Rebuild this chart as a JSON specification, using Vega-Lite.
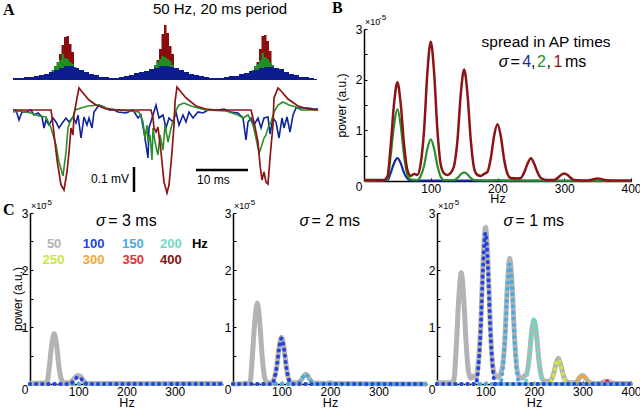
{
"$schema": "https://vega.github.io/schema/vega-lite/v6.json",
"background": "white",
"padding": {"left": 2, "top": 0, "right": 0, "bottom": 0},
"spacing": -7,
"config": {
  "view": {"stroke": null},
  "font": "Liberation Sans",
  "text": {"font": "Liberation Sans", "color": "#000"},
  "axis": {"domainColor": "#000", "domainWidth": 1.5, "tickColor": "#000", "tickSize": -3, "tickWidth": 1, "labelPadding": 5, "labelFontSize": 12, "labelColor": "#000", "labelFont": "Liberation Sans", "titleFont": "Liberation Sans", "titleFontSize": 13, "titleFontWeight": "normal", "titleColor": "#000", "grid": false, "labelFlush": false, "labelOverlap": false, "labelBound": false},
  "axisX": {"labelPadding": 5.5}
},
"datasets": {
  "hist": [
    {"t":6,"n":0,"s":1},{"t":7.5,"n":2,"s":1},{"t":8,"n":5,"s":1},{"t":8.5,"n":12,"s":1},{"t":9,"n":26,"s":1},{"t":9.5,"n":35,"s":1},{"t":10,"n":43,"s":1},{"t":10.5,"n":44,"s":1},{"t":11,"n":36,"s":1},{"t":11.5,"n":28,"s":1},{"t":12,"n":12,"s":1},{"t":12.5,"n":5,"s":1},{"t":13,"n":1,"s":1},{"t":13.5,"n":0,"s":1},
    {"t":27.5,"n":3,"s":1},{"t":28,"n":8,"s":1},{"t":28.5,"n":20,"s":1},{"t":29,"n":31,"s":1},{"t":29.5,"n":46,"s":1},{"t":30,"n":55,"s":1},{"t":30.5,"n":47,"s":1},{"t":31,"n":34,"s":1},{"t":31.5,"n":26,"s":1},{"t":32,"n":12,"s":1},{"t":32.5,"n":5,"s":1},{"t":33,"n":0,"s":1},
    {"t":47.5,"n":3,"s":1},{"t":48,"n":8,"s":1},{"t":48.5,"n":18,"s":1},{"t":49,"n":31,"s":1},{"t":49.5,"n":44,"s":1},{"t":50,"n":45,"s":1},{"t":50.5,"n":39,"s":1},{"t":51,"n":29,"s":1},{"t":51.5,"n":15,"s":1},{"t":52,"n":6,"s":1},{"t":52.5,"n":2,"s":1},{"t":53,"n":0,"s":1},
    {"t":4,"n":0,"s":2},{"t":6,"n":3,"s":2},{"t":6.5,"n":5,"s":2},{"t":7,"n":8,"s":2},{"t":7.5,"n":10,"s":2},{"t":8,"n":14,"s":2},{"t":8.5,"n":18,"s":2},{"t":9,"n":20,"s":2},{"t":9.5,"n":26,"s":2},{"t":10,"n":22,"s":2},{"t":10.5,"n":21,"s":2},{"t":11,"n":18,"s":2},{"t":11.5,"n":16,"s":2},{"t":12,"n":13,"s":2},{"t":12.5,"n":10,"s":2},{"t":13,"n":7,"s":2},{"t":13.5,"n":5,"s":2},{"t":14,"n":3,"s":2},{"t":14.5,"n":0,"s":2},
    {"t":26.5,"n":3,"s":2},{"t":27,"n":6,"s":2},{"t":27.5,"n":10,"s":2},{"t":28,"n":15,"s":2},{"t":28.5,"n":18,"s":2},{"t":29,"n":21,"s":2},{"t":29.5,"n":24,"s":2},{"t":30,"n":23,"s":2},{"t":30.5,"n":21,"s":2},{"t":31,"n":19,"s":2},{"t":31.5,"n":15,"s":2},{"t":32,"n":12,"s":2},{"t":32.5,"n":10,"s":2},{"t":33,"n":7,"s":2},{"t":33.5,"n":4,"s":2},{"t":34,"n":2,"s":2},{"t":34.5,"n":0,"s":2},
    {"t":46.5,"n":3,"s":2},{"t":47,"n":6,"s":2},{"t":47.5,"n":10,"s":2},{"t":48,"n":14,"s":2},{"t":48.5,"n":16,"s":2},{"t":49,"n":20,"s":2},{"t":49.5,"n":27,"s":2},{"t":50,"n":23,"s":2},{"t":50.5,"n":21,"s":2},{"t":51,"n":18,"s":2},{"t":51.5,"n":15,"s":2},{"t":52,"n":12,"s":2},{"t":52.5,"n":9,"s":2},{"t":53,"n":6,"s":2},{"t":53.5,"n":3,"s":2},{"t":54,"n":0,"s":2},
    {"t":-0.2,"n":2,"s":4},{"t":1,"n":2,"s":4},{"t":2,"n":3,"s":4},{"t":3,"n":3,"s":4},{"t":4,"n":4,"s":4},{"t":5,"n":5,"s":4},{"t":6,"n":6,"s":4},{"t":7,"n":8,"s":4},{"t":8,"n":10,"s":4},{"t":9,"n":12,"s":4},{"t":10,"n":14,"s":4},{"t":11,"n":14,"s":4},{"t":12,"n":12,"s":4},{"t":13,"n":10,"s":4},{"t":14,"n":8,"s":4},{"t":15,"n":6,"s":4},{"t":16,"n":5,"s":4},{"t":17,"n":3,"s":4},{"t":18,"n":3,"s":4},{"t":19,"n":2,"s":4},{"t":20,"n":2,"s":4},
    {"t":21,"n":3,"s":4},{"t":22,"n":4,"s":4},{"t":23,"n":5,"s":4},{"t":24,"n":7,"s":4},{"t":25,"n":8,"s":4},{"t":26,"n":9,"s":4},{"t":27,"n":11,"s":4},{"t":28,"n":12,"s":4},{"t":29,"n":14,"s":4},{"t":30,"n":14,"s":4},{"t":31,"n":13,"s":4},{"t":32,"n":12,"s":4},{"t":33,"n":10,"s":4},{"t":34,"n":8,"s":4},{"t":35,"n":6,"s":4},{"t":36,"n":5,"s":4},{"t":37,"n":4,"s":4},{"t":38,"n":3,"s":4},{"t":39,"n":2,"s":4},{"t":40,"n":2,"s":4},
    {"t":41,"n":2,"s":4},{"t":42,"n":3,"s":4},{"t":43,"n":4,"s":4},{"t":44,"n":4,"s":4},{"t":45,"n":6,"s":4},{"t":46,"n":7,"s":4},{"t":47,"n":9,"s":4},{"t":48,"n":10,"s":4},{"t":49,"n":12,"s":4},{"t":50,"n":13,"s":4},{"t":51,"n":13,"s":4},{"t":52,"n":12,"s":4},{"t":53,"n":11,"s":4},{"t":54,"n":8,"s":4},{"t":55,"n":6,"s":4},{"t":56,"n":5,"s":4},{"t":57,"n":3,"s":4},{"t":58,"n":3,"s":4},{"t":59,"n":2,"s":4},{"t":60,"n":1,"s":4},{"t":60.6,"n":1,"s":4}
  ],
  "trace": [
    {"t":-0.2,"v":0,"s":1},{"t":7.4,"v":0,"s":1},{"t":7.8,"v":-0.06,"s":1},{"t":8.6,"v":-0.2,"s":1},{"t":9.4,"v":-0.3,"s":1},{"t":10,"v":-0.32,"s":1},{"t":10.6,"v":-0.248,"s":1},{"t":11,"v":-0.168,"s":1},{"t":11.4,"v":-0.072,"s":1},{"t":11.8,"v":-0.1,"s":1},{"t":12,"v":-0.02,"s":1},{"t":12.6,"v":0.048,"s":1},{"t":13,"v":0.088,"s":1},{"t":13.8,"v":0.068,"s":1},{"t":15,"v":0.04,"s":1},{"t":16.4,"v":0.02,"s":1},{"t":18.4,"v":0.004,"s":1},{"t":21.4,"v":0,"s":1},
    {"t":27.4,"v":0,"s":1},{"t":27.8,"v":-0.032,"s":1},{"t":28,"v":-0.072,"s":1},{"t":28.4,"v":-0.088,"s":1},{"t":28.8,"v":-0.068,"s":1},{"t":29.4,"v":-0.168,"s":1},{"t":30,"v":-0.288,"s":1},{"t":30.6,"v":-0.332,"s":1},{"t":31,"v":-0.3,"s":1},{"t":31.6,"v":-0.168,"s":1},{"t":32,"v":-0.06,"s":1},{"t":32.2,"v":0.032,"s":1},{"t":32.6,"v":0.092,"s":1},{"t":33.4,"v":0.072,"s":1},{"t":34.4,"v":0.048,"s":1},{"t":36.4,"v":0.016,"s":1},{"t":38.4,"v":0.004,"s":1},{"t":40.4,"v":0,"s":1},
    {"t":47.4,"v":0,"s":1},{"t":48,"v":-0.048,"s":1},{"t":48.8,"v":-0.128,"s":1},{"t":49.2,"v":-0.22,"s":1},{"t":49.6,"v":-0.28,"s":1},{"t":50,"v":-0.248,"s":1},{"t":50.4,"v":-0.288,"s":1},{"t":50.8,"v":-0.296,"s":1},{"t":51.2,"v":-0.192,"s":1},{"t":51.8,"v":-0.06,"s":1},{"t":52,"v":0.048,"s":1},{"t":52.8,"v":0.088,"s":1},{"t":53.6,"v":0.072,"s":1},{"t":54.8,"v":0.044,"s":1},{"t":56.8,"v":0.016,"s":1},{"t":58.8,"v":0.004,"s":1},{"t":60.8,"v":0,"s":1},
    {"t":-0.2,"v":-0.008,"s":2},{"t":1.4,"v":-0.004,"s":2},{"t":3.4,"v":-0.012,"s":2},{"t":5,"v":-0.024,"s":2},{"t":6.4,"v":-0.028,"s":2},{"t":7.4,"v":-0.072,"s":2},{"t":8.4,"v":-0.14,"s":2},{"t":9,"v":-0.208,"s":2},{"t":9.8,"v":-0.264,"s":2},{"t":10.4,"v":-0.168,"s":2},{"t":10.8,"v":-0.072,"s":2},{"t":11.2,"v":-0.048,"s":2},{"t":11.8,"v":-0.028,"s":2},{"t":12.2,"v":0,"s":2},{"t":13.4,"v":0.008,"s":2},{"t":14.8,"v":0.016,"s":2},{"t":16.8,"v":0.02,"s":2},{"t":18.4,"v":0.008,"s":2},{"t":20.4,"v":0,"s":2},
    {"t":23.4,"v":-0.004,"s":2},{"t":25,"v":-0.008,"s":2},{"t":25.8,"v":-0.048,"s":2},{"t":26.2,"v":-0.112,"s":2},{"t":26.6,"v":-0.06,"s":2},{"t":26.8,"v":-0.128,"s":2},{"t":27.2,"v":-0.1,"s":2},{"t":27.6,"v":-0.2,"s":2},{"t":27.8,"v":-0.072,"s":2},{"t":28.2,"v":-0.128,"s":2},{"t":28.8,"v":-0.18,"s":2},{"t":29.2,"v":-0.1,"s":2},{"t":29.8,"v":-0.16,"s":2},{"t":30.2,"v":-0.06,"s":2},{"t":30.8,"v":-0.128,"s":2},{"t":31.4,"v":-0.072,"s":2},{"t":32,"v":-0.032,"s":2},{"t":32.4,"v":0,"s":2},{"t":33,"v":0.02,"s":2},{"t":34,"v":0.028,"s":2},{"t":35.4,"v":0.016,"s":2},{"t":36.8,"v":0.008,"s":2},{"t":38.4,"v":0,"s":2},
    {"t":42.4,"v":-0.004,"s":2},{"t":44.8,"v":-0.02,"s":2},{"t":45.8,"v":-0.032,"s":2},{"t":46.8,"v":-0.02,"s":2},{"t":47.8,"v":-0.06,"s":2},{"t":48.4,"v":-0.112,"s":2},{"t":49,"v":-0.172,"s":2},{"t":49.4,"v":-0.152,"s":2},{"t":50,"v":-0.112,"s":2},{"t":50.4,"v":-0.1,"s":2},{"t":50.8,"v":-0.072,"s":2},{"t":51.4,"v":-0.048,"s":2},{"t":52,"v":-0.008,"s":2},{"t":52.8,"v":0.02,"s":2},{"t":53.8,"v":0.032,"s":2},{"t":55,"v":0.02,"s":2},{"t":56.4,"v":0.012,"s":2},{"t":57.4,"v":0,"s":2},{"t":60.8,"v":0,"s":2},
    {"t":-0.2,"v":0,"s":4},{"t":0.4,"v":0,"s":4},{"t":1,"v":-0.04,"s":4},{"t":1.6,"v":-0.008,"s":4},{"t":2.4,"v":-0.008,"s":4},{"t":3.4,"v":0,"s":4},{"t":4,"v":-0.02,"s":4},{"t":4.8,"v":-0.012,"s":4},{"t":5.6,"v":-0.028,"s":4},{"t":6,"v":-0.072,"s":4},{"t":6.4,"v":-0.04,"s":4},{"t":7,"v":-0.06,"s":4},{"t":7.8,"v":-0.032,"s":4},{"t":8.4,"v":-0.048,"s":4},{"t":9,"v":-0.072,"s":4},{"t":9.8,"v":-0.048,"s":4},{"t":10.4,"v":-0.032,"s":4},{"t":11,"v":-0.048,"s":4},{"t":11.8,"v":-0.028,"s":4},{"t":12.4,"v":-0.052,"s":4},{"t":12.8,"v":-0.02,"s":4},{"t":13.4,"v":-0.112,"s":4},{"t":14,"v":-0.028,"s":4},{"t":14.6,"v":-0.06,"s":4},{"t":15,"v":-0.032,"s":4},{"t":15.6,"v":-0.072,"s":4},{"t":16,"v":-0.008,"s":4},{"t":17,"v":0.02,"s":4},{"t":18,"v":0.012,"s":4},{"t":19,"v":0,"s":4},{"t":20,"v":0,"s":4},
    {"t":20.8,"v":-0.008,"s":4},{"t":22.4,"v":-0.012,"s":4},{"t":23.8,"v":0,"s":4},{"t":24.8,"v":-0.032,"s":4},{"t":25.4,"v":-0.02,"s":4},{"t":26,"v":-0.088,"s":4},{"t":26.4,"v":-0.14,"s":4},{"t":26.8,"v":-0.192,"s":4},{"t":27,"v":-0.072,"s":4},{"t":27.8,"v":-0.02,"s":4},{"t":28.4,"v":0.02,"s":4},{"t":29,"v":-0.032,"s":4},{"t":29.8,"v":-0.02,"s":4},{"t":30.4,"v":-0.072,"s":4},{"t":31,"v":-0.032,"s":4},{"t":31.8,"v":-0.048,"s":4},{"t":32.4,"v":-0.008,"s":4},{"t":33,"v":-0.06,"s":4},{"t":33.8,"v":-0.02,"s":4},{"t":34.4,"v":-0.048,"s":4},{"t":35,"v":-0.008,"s":4},{"t":35.8,"v":-0.032,"s":4},{"t":36.8,"v":-0.008,"s":4},{"t":37.8,"v":-0.012,"s":4},{"t":38.8,"v":0,"s":4},{"t":39.8,"v":0,"s":4},{"t":40.8,"v":0,"s":4},
    {"t":42,"v":0.004,"s":4},{"t":43.4,"v":-0.008,"s":4},{"t":44.8,"v":-0.012,"s":4},{"t":45.8,"v":-0.032,"s":4},{"t":46.4,"v":-0.12,"s":4},{"t":46.8,"v":-0.048,"s":4},{"t":47.4,"v":-0.032,"s":4},{"t":48,"v":-0.06,"s":4},{"t":48.8,"v":-0.032,"s":4},{"t":49.4,"v":-0.072,"s":4},{"t":50,"v":-0.032,"s":4},{"t":50.8,"v":-0.028,"s":4},{"t":51.2,"v":-0.096,"s":4},{"t":51.8,"v":-0.032,"s":4},{"t":52.4,"v":-0.048,"s":4},{"t":53,"v":-0.112,"s":4},{"t":53.6,"v":-0.032,"s":4},{"t":54,"v":-0.072,"s":4},{"t":54.6,"v":-0.028,"s":4},{"t":55.2,"v":-0.088,"s":4},{"t":55.8,"v":-0.02,"s":4},{"t":56.4,"v":0.008,"s":4},{"t":57.4,"v":0.008,"s":4},{"t":58.8,"v":0.008,"s":4},{"t":60,"v":0.004,"s":4},{"t":60.8,"v":0.004,"s":4}
  ],
  "bars": [
    {"t":24,"t2":24,"v":-0.228,"v2":-0.328},
    {"t":36.4,"t2":46.8,"v":-0.24,"v2":-0.24}
  ],
  "notesA": [
    {"id":"title","t":41.2,"v":0.404,"label":"50 Hz, 20 ms period"},
    {"id":"A","t":-2.2,"v":0.432,"label":"A"},
    {"id":"mv","t":23,"v":-0.276,"label":"0.1 mV"},
    {"id":"ms","t":36.6,"v":-0.28,"label":"10 ms"}
  ],
  "notes": [
    {"id":"B","s":0,"hz":-48,"p":3.572,"label":"B"},
    {"id":"x10","s":0,"hz":1.5,"p":3.14,"label":"×10"},
    {"id":"exp","s":0,"hz":22.5,"p":3.21,"label":"-5"},
    {"id":"spread","s":0,"hz":272.7,"p":2.74,"label":"spread in AP times"},
    {"id":"sig","s":0,"hz":202,"p":2.35,"label":"σ"},
    {"id":"plain","s":0,"hz":219.5,"p":2.35,"label":"="},
    {"id":"plain","s":0,"hz":250,"p":2.35,"label":","},
    {"id":"plain","s":0,"hz":273.5,"p":2.35,"label":","},
    {"id":"plain","s":0,"hz":301,"p":2.35,"label":"ms"},
    {"id":"n4","s":0,"hz":237,"p":2.35,"label":"4"},
    {"id":"n2","s":0,"hz":259,"p":2.35,"label":"2"},
    {"id":"n1","s":0,"hz":284,"p":2.35,"label":"1"},
    {"id":"C","s":3,"hz":-56,"p":3.193,"label":"C"},
    {"id":"Hz","s":3,"hz":352,"p":2.46,"label":"Hz"},
    {"id":"sig","s":3,"hz":137,"p":2.86,"label":"σ"},
    {"id":"plain","s":3,"hz":162,"p":2.86,"label":"= 3 ms"},
    {"id":"x10","s":3,"hz":2,"p":3.12,"label":"×10"},
    {"id":"exp","s":3,"hz":31,"p":3.18,"label":"-5"},
    {"id":"sig","s":2,"hz":137,"p":2.86,"label":"σ"},
    {"id":"plain","s":2,"hz":162,"p":2.86,"label":"= 2 ms"},
    {"id":"x10","s":2,"hz":2,"p":3.12,"label":"×10"},
    {"id":"exp","s":2,"hz":31,"p":3.18,"label":"-5"},
    {"id":"sig","s":1,"hz":137,"p":2.86,"label":"σ"},
    {"id":"plain","s":1,"hz":162,"p":2.86,"label":"= 1 ms"},
    {"id":"x10","s":1,"hz":2,"p":3.12,"label":"×10"},
    {"id":"exp","s":1,"hz":31,"p":3.18,"label":"-5"}
  ],
  "spec": [
    {"s":1,"hz":0,"p":0.02},{"s":1,"hz":30,"p":0.02},{"s":1,"hz":35,"p":0.08},{"s":1,"hz":40,"p":0.7},{"s":1,"hz":45,"p":1.52},{"s":1,"hz":50,"p":1.95},{"s":1,"hz":55,"p":1.52},{"s":1,"hz":60,"p":0.72},{"s":1,"hz":65,"p":0.22},{"s":1,"hz":70,"p":0.1},{"s":1,"hz":75,"p":0.14},{"s":1,"hz":80,"p":0.12},{"s":1,"hz":85,"p":0.35},{"s":1,"hz":90,"p":1.0},{"s":1,"hz":95,"p":2.15},{"s":1,"hz":100,"p":2.75},{"s":1,"hz":105,"p":2.15},{"s":1,"hz":110,"p":1.0},{"s":1,"hz":115,"p":0.32},{"s":1,"hz":120,"p":0.15},{"s":1,"hz":125,"p":0.12},{"s":1,"hz":130,"p":0.16},{"s":1,"hz":135,"p":0.3},{"s":1,"hz":140,"p":0.8},{"s":1,"hz":145,"p":1.72},{"s":1,"hz":150,"p":2.2},{"s":1,"hz":155,"p":1.72},{"s":1,"hz":160,"p":0.8},{"s":1,"hz":165,"p":0.25},{"s":1,"hz":170,"p":0.12},{"s":1,"hz":175,"p":0.1},{"s":1,"hz":180,"p":0.14},{"s":1,"hz":185,"p":0.18},{"s":1,"hz":190,"p":0.45},{"s":1,"hz":195,"p":0.9},{"s":1,"hz":200,"p":1.12},{"s":1,"hz":205,"p":0.88},{"s":1,"hz":210,"p":0.42},{"s":1,"hz":215,"p":0.14},{"s":1,"hz":220,"p":0.06},{"s":1,"hz":230,"p":0.05},{"s":1,"hz":235,"p":0.06},{"s":1,"hz":240,"p":0.17},{"s":1,"hz":245,"p":0.34},{"s":1,"hz":250,"p":0.45},{"s":1,"hz":255,"p":0.34},{"s":1,"hz":260,"p":0.17},{"s":1,"hz":265,"p":0.06},{"s":1,"hz":275,"p":0.02},{"s":1,"hz":285,"p":0.02},{"s":1,"hz":290,"p":0.06},{"s":1,"hz":295,"p":0.12},{"s":1,"hz":300,"p":0.15},{"s":1,"hz":305,"p":0.12},{"s":1,"hz":310,"p":0.06},{"s":1,"hz":315,"p":0.02},{"s":1,"hz":335,"p":0.01},{"s":1,"hz":340,"p":0.02},{"s":1,"hz":345,"p":0.04},{"s":1,"hz":350,"p":0.05},{"s":1,"hz":355,"p":0.04},{"s":1,"hz":360,"p":0.02},{"s":1,"hz":370,"p":0.01},{"s":1,"hz":400,"p":0.01},
    {"s":2,"hz":0,"p":0},{"s":2,"hz":35,"p":0.02},{"s":2,"hz":40,"p":0.5},{"s":2,"hz":45,"p":1.1},{"s":2,"hz":50,"p":1.42},{"s":2,"hz":55,"p":1.1},{"s":2,"hz":60,"p":0.5},{"s":2,"hz":65,"p":0.12},{"s":2,"hz":70,"p":0.03},{"s":2,"hz":80,"p":0.02},{"s":2,"hz":85,"p":0.1},{"s":2,"hz":90,"p":0.3},{"s":2,"hz":95,"p":0.64},{"s":2,"hz":100,"p":0.82},{"s":2,"hz":105,"p":0.64},{"s":2,"hz":110,"p":0.3},{"s":2,"hz":115,"p":0.08},{"s":2,"hz":120,"p":0.02},{"s":2,"hz":135,"p":0.02},{"s":2,"hz":140,"p":0.06},{"s":2,"hz":145,"p":0.13},{"s":2,"hz":150,"p":0.17},{"s":2,"hz":155,"p":0.13},{"s":2,"hz":160,"p":0.06},{"s":2,"hz":165,"p":0.02},{"s":2,"hz":190,"p":0.01},{"s":2,"hz":200,"p":0.02},{"s":2,"hz":210,"p":0.01},{"s":2,"hz":400,"p":0},
    {"s":3,"hz":0,"p":0.01},{"s":3,"hz":35,"p":0.02},{"s":3,"hz":40,"p":0.3},{"s":3,"hz":45,"p":0.69},{"s":3,"hz":50,"p":0.88},{"s":3,"hz":55,"p":0.69},{"s":3,"hz":60,"p":0.3},{"s":3,"hz":65,"p":0.08},{"s":3,"hz":70,"p":0.02},{"s":3,"hz":80,"p":0.02},{"s":3,"hz":85,"p":0.04},{"s":3,"hz":90,"p":0.08},{"s":3,"hz":95,"p":0.13},{"s":3,"hz":100,"p":0.15},{"s":3,"hz":105,"p":0.13},{"s":3,"hz":110,"p":0.07},{"s":3,"hz":115,"p":0.02},{"s":3,"hz":120,"p":0.01},{"s":3,"hz":400,"p":0.01},
    {"s":4,"hz":0,"p":0},{"s":4,"hz":35,"p":0.01},{"s":4,"hz":40,"p":0.16},{"s":4,"hz":45,"p":0.35},{"s":4,"hz":50,"p":0.45},{"s":4,"hz":55,"p":0.35},{"s":4,"hz":60,"p":0.16},{"s":4,"hz":65,"p":0.05},{"s":4,"hz":70,"p":0.01},{"s":4,"hz":400,"p":0}
  ],
  "comp": [
    {"s":3,"f":400,"hz":0,"p":0},{"s":3,"f":400,"hz":400,"p":0},
    {"s":3,"f":350,"hz":0,"p":0},{"s":3,"f":350,"hz":400,"p":0},
    {"s":3,"f":300,"hz":0,"p":0},{"s":3,"f":300,"hz":400,"p":0},
    {"s":3,"f":250,"hz":0,"p":0},{"s":3,"f":250,"hz":400,"p":0},
    {"s":3,"f":200,"hz":0,"p":0},{"s":3,"f":200,"hz":400,"p":0},
    {"s":3,"f":150,"hz":0,"p":0},{"s":3,"f":150,"hz":400,"p":0},
    {"s":3,"f":100,"hz":0,"p":0},{"s":3,"f":100,"hz":80,"p":0},{"s":3,"f":100,"hz":85,"p":0.01},{"s":3,"f":100,"hz":90,"p":0.05},{"s":3,"f":100,"hz":95,"p":0.1},{"s":3,"f":100,"hz":100,"p":0.12},{"s":3,"f":100,"hz":105,"p":0.1},{"s":3,"f":100,"hz":110,"p":0.05},{"s":3,"f":100,"hz":115,"p":0.01},{"s":3,"f":100,"hz":120,"p":0},{"s":3,"f":100,"hz":400,"p":0},
    {"s":2,"f":400,"hz":0,"p":0},{"s":2,"f":400,"hz":400,"p":0},
    {"s":2,"f":350,"hz":0,"p":0},{"s":2,"f":350,"hz":400,"p":0},
    {"s":2,"f":300,"hz":0,"p":0},{"s":2,"f":300,"hz":400,"p":0},
    {"s":2,"f":250,"hz":0,"p":0},{"s":2,"f":250,"hz":400,"p":0},
    {"s":2,"f":200,"hz":0,"p":0},{"s":2,"f":200,"hz":185,"p":0},{"s":2,"f":200,"hz":195,"p":0.015},{"s":2,"f":200,"hz":200,"p":0.02},{"s":2,"f":200,"hz":205,"p":0.015},{"s":2,"f":200,"hz":215,"p":0},{"s":2,"f":200,"hz":400,"p":0},
    {"s":2,"f":150,"hz":0,"p":0},{"s":2,"f":150,"hz":130,"p":0},{"s":2,"f":150,"hz":135,"p":0.02},{"s":2,"f":150,"hz":140,"p":0.06},{"s":2,"f":150,"hz":145,"p":0.13},{"s":2,"f":150,"hz":150,"p":0.17},{"s":2,"f":150,"hz":155,"p":0.13},{"s":2,"f":150,"hz":160,"p":0.06},{"s":2,"f":150,"hz":165,"p":0.02},{"s":2,"f":150,"hz":170,"p":0},{"s":2,"f":150,"hz":400,"p":0},
    {"s":2,"f":100,"hz":0,"p":0},{"s":2,"f":100,"hz":80,"p":0},{"s":2,"f":100,"hz":85,"p":0.08},{"s":2,"f":100,"hz":90,"p":0.29},{"s":2,"f":100,"hz":95,"p":0.62},{"s":2,"f":100,"hz":100,"p":0.8},{"s":2,"f":100,"hz":105,"p":0.62},{"s":2,"f":100,"hz":110,"p":0.29},{"s":2,"f":100,"hz":115,"p":0.08},{"s":2,"f":100,"hz":120,"p":0.02},{"s":2,"f":100,"hz":125,"p":0},{"s":2,"f":100,"hz":400,"p":0},
    {"s":1,"f":400,"hz":0,"p":0},{"s":1,"f":400,"hz":400,"p":0},
    {"s":1,"f":350,"hz":0,"p":0},{"s":1,"f":350,"hz":335,"p":0},{"s":1,"f":350,"hz":340,"p":0.01},{"s":1,"f":350,"hz":345,"p":0.04},{"s":1,"f":350,"hz":350,"p":0.05},{"s":1,"f":350,"hz":355,"p":0.04},{"s":1,"f":350,"hz":360,"p":0.01},{"s":1,"f":350,"hz":365,"p":0},{"s":1,"f":350,"hz":400,"p":0},
    {"s":1,"f":300,"hz":0,"p":0},{"s":1,"f":300,"hz":280,"p":0},{"s":1,"f":300,"hz":285,"p":0.015},{"s":1,"f":300,"hz":290,"p":0.05},{"s":1,"f":300,"hz":295,"p":0.12},{"s":1,"f":300,"hz":300,"p":0.15},{"s":1,"f":300,"hz":305,"p":0.12},{"s":1,"f":300,"hz":310,"p":0.05},{"s":1,"f":300,"hz":315,"p":0.015},{"s":1,"f":300,"hz":320,"p":0},{"s":1,"f":300,"hz":400,"p":0},
    {"s":1,"f":250,"hz":0,"p":0},{"s":1,"f":250,"hz":230,"p":0},{"s":1,"f":250,"hz":235,"p":0.04},{"s":1,"f":250,"hz":240,"p":0.15},{"s":1,"f":250,"hz":245,"p":0.33},{"s":1,"f":250,"hz":250,"p":0.42},{"s":1,"f":250,"hz":255,"p":0.33},{"s":1,"f":250,"hz":260,"p":0.15},{"s":1,"f":250,"hz":265,"p":0.04},{"s":1,"f":250,"hz":270,"p":0},{"s":1,"f":250,"hz":400,"p":0},
    {"s":1,"f":200,"hz":0,"p":0},{"s":1,"f":200,"hz":180,"p":0},{"s":1,"f":200,"hz":185,"p":0.12},{"s":1,"f":200,"hz":190,"p":0.41},{"s":1,"f":200,"hz":195,"p":0.9},{"s":1,"f":200,"hz":200,"p":1.15},{"s":1,"f":200,"hz":205,"p":0.9},{"s":1,"f":200,"hz":210,"p":0.41},{"s":1,"f":200,"hz":215,"p":0.12},{"s":1,"f":200,"hz":220,"p":0},{"s":1,"f":200,"hz":400,"p":0},
    {"s":1,"f":150,"hz":0,"p":0},{"s":1,"f":150,"hz":130,"p":0},{"s":1,"f":150,"hz":135,"p":0.21},{"s":1,"f":150,"hz":140,"p":0.76},{"s":1,"f":150,"hz":145,"p":1.64},{"s":1,"f":150,"hz":150,"p":2.1},{"s":1,"f":150,"hz":155,"p":1.64},{"s":1,"f":150,"hz":160,"p":0.76},{"s":1,"f":150,"hz":165,"p":0.21},{"s":1,"f":150,"hz":170,"p":0},{"s":1,"f":150,"hz":400,"p":0},
    {"s":1,"f":100,"hz":0,"p":0},{"s":1,"f":100,"hz":80,"p":0},{"s":1,"f":100,"hz":85,"p":0.27},{"s":1,"f":100,"hz":90,"p":0.95},{"s":1,"f":100,"hz":95,"p":2.07},{"s":1,"f":100,"hz":100,"p":2.65},{"s":1,"f":100,"hz":105,"p":2.07},{"s":1,"f":100,"hz":110,"p":0.95},{"s":1,"f":100,"hz":115,"p":0.27},{"s":1,"f":100,"hz":120,"p":0},{"s":1,"f":100,"hz":400,"p":0}
  ],
  "legend": [
    {"f":50,"hz":50,"p":2.46,"label":"50"},{"f":100,"hz":132,"p":2.46,"label":"100"},{"f":150,"hz":213,"p":2.46,"label":"150"},{"f":200,"hz":292,"p":2.46,"label":"200"},
    {"f":250,"hz":49,"p":2.18,"label":"250"},{"f":300,"hz":132,"p":2.18,"label":"300"},{"f":350,"hz":214,"p":2.18,"label":"350"},{"f":400,"hz":292,"p":2.18,"label":"400"}
  ]
},
"vconcat": [
  {
    "bounds": "flush",
    "spacing": 46,
    "hconcat": [
      {
        "width": 288, "height": 152,
        "encoding": {"x": {"field": "t", "type": "quantitative", "scale": {"domain": [3.2, 60.8], "nice": false, "zero": false}, "axis": null}},
        "layer": [
          {
            "data": {"name": "hist"},
            "encoding": {"y": {"field": "n", "type": "quantitative", "scale": {"domain": [-101, 51], "nice": false}, "axis": null}},
            "layer": [
              {"transform": [{"filter": "datum.s === 1"}], "mark": {"type": "area", "interpolate": "step-after", "color": "#8b0c0c"}},
              {"transform": [{"filter": "datum.s === 2"}], "mark": {"type": "area", "interpolate": "step-after", "color": "#1f8f25"}},
              {"transform": [{"filter": "datum.s === 4"}], "mark": {"type": "area", "interpolate": "step-after", "color": "#0c1c8e"}}
            ]
          },
          {
            "encoding": {"y": {"field": "v", "type": "quantitative", "scale": {"domain": [-0.284, 0.324], "nice": false, "zero": false}, "axis": null}},
            "layer": [
              {"data": {"name": "trace"}, "transform": [{"filter": "datum.s === 4"}], "mark": {"type": "line", "color": "#10229a", "strokeWidth": 1.6}},
              {"data": {"name": "trace"}, "transform": [{"filter": "datum.s === 2"}], "mark": {"type": "line", "color": "#2a8f2a", "strokeWidth": 1.6}},
              {"data": {"name": "trace"}, "transform": [{"filter": "datum.s === 1"}], "mark": {"type": "line", "color": "#8c1414", "strokeWidth": 1.7}},
              {"data": {"name": "bars"}, "mark": {"type": "rule", "color": "#000", "strokeWidth": 2.5}, "encoding": {"x2": {"field": "t2"}, "y2": {"field": "v2"}}},
              {"data": {"name": "notesA"}, "transform": [{"filter": "datum.id === 'title'"}], "mark": {"type": "text", "fontSize": 15}, "encoding": {"text": {"field": "label"}}},
              {"data": {"name": "notesA"}, "transform": [{"filter": "datum.id === 'A'"}], "mark": {"type": "text", "fontSize": 16, "font": "Liberation Serif", "fontWeight": "bold", "align": "left", "baseline": "top"}, "encoding": {"text": {"field": "label"}}},
              {"data": {"name": "notesA"}, "transform": [{"filter": "datum.id === 'mv'"}], "mark": {"type": "text", "fontSize": 12, "align": "right"}, "encoding": {"text": {"field": "label"}}},
              {"data": {"name": "notesA"}, "transform": [{"filter": "datum.id === 'ms'"}], "mark": {"type": "text", "fontSize": 12, "align": "left"}, "encoding": {"text": {"field": "label"}}}
            ]
          }
        ],
        "resolve": {"scale": {"y": "independent"}}
      },
      {
        "width": 267, "height": 152,
        "encoding": {
          "x": {"field": "hz", "type": "quantitative", "scale": {"domain": [0, 400], "nice": false}, "axis": {"values": [0, 100, 200, 300, 400], "labelExpr": "datum.value === 0 ? '' : datum.label", "title": "Hz", "titleFontSize": 12.5, "titlePadding": -2}},
          "y": {"field": "p", "type": "quantitative", "scale": {"domain": [0, 3], "nice": false}, "axis": {"values": [0, 0.5, 1, 1.5, 2, 2.5, 3], "labelExpr": "datum.value % 1 === 0 ? format(datum.value, 'd') : ''", "labelBaseline": {"condition": {"test": "datum.value === 0", "value": "top"}, "value": "middle"}, "title": "power (a.u.)", "titleFontSize": 12, "titlePadding": 7}}
        },
        "layer": [
          {"data": {"name": "spec"}, "transform": [{"filter": "datum.s === 4"}], "mark": {"type": "line", "interpolate": "monotone", "color": "#1a2a9e", "strokeWidth": 2.2}},
          {"data": {"name": "spec"}, "transform": [{"filter": "datum.s === 2"}], "mark": {"type": "line", "interpolate": "monotone", "color": "#2a8f2a", "strokeWidth": 2.2}},
          {"data": {"name": "spec"}, "transform": [{"filter": "datum.s === 1"}], "mark": {"type": "line", "interpolate": "monotone", "color": "#8c1414", "strokeWidth": 2.5}},
          {"data": {"name": "notes"}, "transform": [{"filter": "datum.s === 0 && datum.id === 'B'"}], "mark": {"type": "text", "fontSize": 16, "font": "Liberation Serif", "fontWeight": "bold", "align": "left", "baseline": "top"}, "encoding": {"text": {"field": "label"}}},
          {"data": {"name": "notes"}, "transform": [{"filter": "datum.s === 0 && datum.id === 'x10'"}], "mark": {"type": "text", "fontSize": 9, "align": "left"}, "encoding": {"text": {"field": "label"}}},
          {"data": {"name": "notes"}, "transform": [{"filter": "datum.s === 0 && datum.id === 'exp'"}], "mark": {"type": "text", "fontSize": 8, "align": "left"}, "encoding": {"text": {"field": "label"}}},
          {"data": {"name": "notes"}, "transform": [{"filter": "datum.s === 0 && datum.id === 'spread'"}], "mark": {"type": "text", "fontSize": 15.5}, "encoding": {"text": {"field": "label"}}},
          {"data": {"name": "notes"}, "transform": [{"filter": "datum.s === 0 && datum.id === 'sig'"}], "mark": {"type": "text", "fontSize": 16, "fontStyle": "italic", "align": "left"}, "encoding": {"text": {"field": "label"}}},
          {"data": {"name": "notes"}, "transform": [{"filter": "datum.s === 0 && datum.id === 'plain'"}], "mark": {"type": "text", "fontSize": 16, "align": "left"}, "encoding": {"text": {"field": "label"}}},
          {"data": {"name": "notes"}, "transform": [{"filter": "datum.s === 0 && datum.id === 'n4'"}], "mark": {"type": "text", "fontSize": 16, "align": "left", "color": "#1a2a9e"}, "encoding": {"text": {"field": "label"}}},
          {"data": {"name": "notes"}, "transform": [{"filter": "datum.s === 0 && datum.id === 'n2'"}], "mark": {"type": "text", "fontSize": 16, "align": "left", "color": "#2a8f2a"}, "encoding": {"text": {"field": "label"}}},
          {"data": {"name": "notes"}, "transform": [{"filter": "datum.s === 0 && datum.id === 'n1'"}], "mark": {"type": "text", "fontSize": 16, "align": "left", "color": "#8c1414"}, "encoding": {"text": {"field": "label"}}}
        ]
      }
    ]
  },
  {
    "bounds": "flush",
    "spacing": 10,
    "hconcat": [
      {
        "width": 193, "height": 171,
        "encoding": {
          "x": {"field": "hz", "type": "quantitative", "scale": {"domain": [0, 400], "nice": false}, "axis": {"values": [0, 100, 200, 300], "labelExpr": "datum.value === 0 ? '' : datum.label", "title": "Hz", "titleFontSize": 12.5, "titlePadding": -1.5}},
          "y": {"field": "p", "type": "quantitative", "scale": {"domain": [0, 3], "nice": false}, "axis": {"values": [0, 0.5, 1, 1.5, 2, 2.5, 3], "labelExpr": "datum.value % 1 === 0 ? format(datum.value, 'd') : ''", "labelBaseline": {"condition": {"test": "datum.value === 0", "value": "top"}, "value": "middle"}, "title": "power (a.u.)", "titleFontSize": 12, "titlePadding": -3}}
        },
        "layer": [
          {"data": {"name": "spec"}, "transform": [{"filter": "datum.s === 3"}], "mark": {"type": "line", "interpolate": "monotone", "color": "#b3b3b3", "strokeWidth": 5}},
          {"data": {"name": "comp"}, "transform": [{"filter": "datum.s === 3"}], "mark": {"type": "line", "interpolate": "monotone", "strokeWidth": 4, "strokeDash": [0.1, 6], "strokeCap": "round"}, "encoding": {"color": {"field": "f", "type": "nominal", "scale": {"domain": [50, 100, 150, 200, 250, 300, 350, 400], "range": ["#b3b3b3", "#2443e0", "#4aaae2", "#6fd8c4", "#cfe43c", "#f6a533", "#e2303a", "#7e1212"]}, "legend": null}}},
          {"data": {"name": "legend"}, "mark": {"type": "text", "fontSize": 13, "fontWeight": "bold"}, "encoding": {"text": {"field": "label"}, "color": {"field": "f", "type": "nominal", "scale": {"domain": [50, 100, 150, 200, 250, 300, 350, 400], "range": ["#b3b3b3", "#2443e0", "#4aaae2", "#6fd8c4", "#cfe43c", "#f6a533", "#e2303a", "#7e1212"]}, "legend": null}}},
          {"data": {"name": "notes"}, "transform": [{"filter": "datum.s === 3 && datum.id === 'Hz'"}], "mark": {"type": "text", "fontSize": 13, "fontWeight": "bold"}, "encoding": {"text": {"field": "label"}}},
          {"data": {"name": "notes"}, "transform": [{"filter": "datum.s === 3 && datum.id === 'C'"}], "mark": {"type": "text", "fontSize": 16, "font": "Liberation Serif", "fontWeight": "bold", "align": "left", "baseline": "top"}, "encoding": {"text": {"field": "label"}}},
          {"data": {"name": "notes"}, "transform": [{"filter": "datum.s === 3 && datum.id === 'sig'"}], "mark": {"type": "text", "fontSize": 16, "fontStyle": "italic", "align": "left"}, "encoding": {"text": {"field": "label"}}},
          {"data": {"name": "notes"}, "transform": [{"filter": "datum.s === 3 && datum.id === 'plain'"}], "mark": {"type": "text", "fontSize": 16, "align": "left"}, "encoding": {"text": {"field": "label"}}},
          {"data": {"name": "notes"}, "transform": [{"filter": "datum.s === 3 && datum.id === 'x10'"}], "mark": {"type": "text", "fontSize": 9, "align": "left"}, "encoding": {"text": {"field": "label"}}},
          {"data": {"name": "notes"}, "transform": [{"filter": "datum.s === 3 && datum.id === 'exp'"}], "mark": {"type": "text", "fontSize": 8, "align": "left"}, "encoding": {"text": {"field": "label"}}}
        ]
      },
      {
        "width": 194, "height": 171,
        "encoding": {
          "x": {"field": "hz", "type": "quantitative", "scale": {"domain": [0, 400], "nice": false}, "axis": {"values": [0, 100, 200, 300], "labelExpr": "datum.value === 0 ? '' : datum.label", "title": "Hz", "titleFontSize": 12.5, "titlePadding": -1.5}},
          "y": {"field": "p", "type": "quantitative", "scale": {"domain": [0, 3], "nice": false}, "axis": {"values": [0, 0.5, 1, 1.5, 2, 2.5, 3], "labelExpr": "datum.value % 1 === 0 ? format(datum.value, 'd') : ''", "labelBaseline": {"condition": {"test": "datum.value === 0", "value": "top"}, "value": "middle"}, "title": null}}
        },
        "layer": [
          {"data": {"name": "spec"}, "transform": [{"filter": "datum.s === 2"}], "mark": {"type": "line", "interpolate": "monotone", "color": "#b3b3b3", "strokeWidth": 5}},
          {"data": {"name": "comp"}, "transform": [{"filter": "datum.s === 2"}], "mark": {"type": "line", "interpolate": "monotone", "strokeWidth": 4, "strokeDash": [0.1, 6], "strokeCap": "round"}, "encoding": {"color": {"field": "f", "type": "nominal", "scale": {"domain": [50, 100, 150, 200, 250, 300, 350, 400], "range": ["#b3b3b3", "#2443e0", "#4aaae2", "#6fd8c4", "#cfe43c", "#f6a533", "#e2303a", "#7e1212"]}, "legend": null}}},
          {"data": {"name": "notes"}, "transform": [{"filter": "datum.s === 2 && datum.id === 'sig'"}], "mark": {"type": "text", "fontSize": 16, "fontStyle": "italic", "align": "left"}, "encoding": {"text": {"field": "label"}}},
          {"data": {"name": "notes"}, "transform": [{"filter": "datum.s === 2 && datum.id === 'plain'"}], "mark": {"type": "text", "fontSize": 16, "align": "left"}, "encoding": {"text": {"field": "label"}}},
          {"data": {"name": "notes"}, "transform": [{"filter": "datum.s === 2 && datum.id === 'x10'"}], "mark": {"type": "text", "fontSize": 9, "align": "left"}, "encoding": {"text": {"field": "label"}}},
          {"data": {"name": "notes"}, "transform": [{"filter": "datum.s === 2 && datum.id === 'exp'"}], "mark": {"type": "text", "fontSize": 8, "align": "left"}, "encoding": {"text": {"field": "label"}}}
        ]
      },
      {
        "width": 194, "height": 171,
        "encoding": {
          "x": {"field": "hz", "type": "quantitative", "scale": {"domain": [0, 400], "nice": false}, "axis": {"values": [0, 100, 200, 300, 400], "labelExpr": "datum.value === 0 ? '' : datum.label", "title": "Hz", "titleFontSize": 12.5, "titlePadding": -1.5}},
          "y": {"field": "p", "type": "quantitative", "scale": {"domain": [0, 3], "nice": false}, "axis": {"values": [0, 0.5, 1, 1.5, 2, 2.5, 3], "labelExpr": "datum.value % 1 === 0 ? format(datum.value, 'd') : ''", "labelBaseline": {"condition": {"test": "datum.value === 0", "value": "top"}, "value": "middle"}, "title": null}}
        },
        "layer": [
          {"data": {"name": "spec"}, "transform": [{"filter": "datum.s === 1"}], "mark": {"type": "line", "interpolate": "monotone", "color": "#b3b3b3", "strokeWidth": 5}},
          {"data": {"name": "comp"}, "transform": [{"filter": "datum.s === 1"}], "mark": {"type": "line", "interpolate": "monotone", "strokeWidth": 4, "strokeDash": [0.1, 6], "strokeCap": "round"}, "encoding": {"color": {"field": "f", "type": "nominal", "scale": {"domain": [50, 100, 150, 200, 250, 300, 350, 400], "range": ["#b3b3b3", "#2443e0", "#4aaae2", "#6fd8c4", "#cfe43c", "#f6a533", "#e2303a", "#7e1212"]}, "legend": null}}},
          {"data": {"name": "notes"}, "transform": [{"filter": "datum.s === 1 && datum.id === 'sig'"}], "mark": {"type": "text", "fontSize": 16, "fontStyle": "italic", "align": "left"}, "encoding": {"text": {"field": "label"}}},
          {"data": {"name": "notes"}, "transform": [{"filter": "datum.s === 1 && datum.id === 'plain'"}], "mark": {"type": "text", "fontSize": 16, "align": "left"}, "encoding": {"text": {"field": "label"}}},
          {"data": {"name": "notes"}, "transform": [{"filter": "datum.s === 1 && datum.id === 'x10'"}], "mark": {"type": "text", "fontSize": 9, "align": "left"}, "encoding": {"text": {"field": "label"}}},
          {"data": {"name": "notes"}, "transform": [{"filter": "datum.s === 1 && datum.id === 'exp'"}], "mark": {"type": "text", "fontSize": 8, "align": "left"}, "encoding": {"text": {"field": "label"}}}
        ]
      }
    ]
  }
]
}
